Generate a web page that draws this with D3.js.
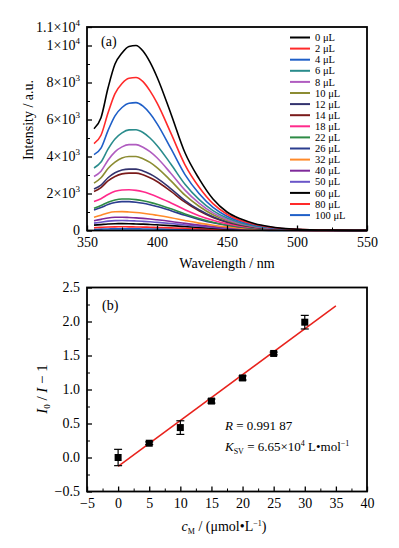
<!DOCTYPE html>
<html>
<head>
<meta charset="utf-8">
<script src="https://cdn.jsdelivr.net/npm/d3@7"></script>
<style>
  body { margin: 0; background: #fff; }
  svg { font-family: "Liberation Serif", "Times New Roman", serif; }
</style>
</head>
<body>
<div id="chart"></div>
<script>
// ---- panel (a) data: emission spectra ----
const wavelengths = [355, 360, 365, 370, 375, 380, 385, 390, 395, 400, 410, 420, 430, 440, 450, 460, 470, 480, 500, 525, 550]

const seriesNames = ["0 μL", "2 μL", "4 μL", "6 μL", "8 μL", "10 μL", "12 μL", "14 μL", "18 μL", "22 μL", "26 μL", "32 μL", "40 μL", "50 μL", "60 μL", "80 μL", "100 μL"]
const seriesColors = ["#000000", "#ff2a2a", "#1f5fc8", "#2a8c8c", "#b05cc0", "#8c8c32", "#33336e", "#7a1a1a", "#ff2a8c", "#2e8b45", "#2b3d8f", "#ff8a2a", "#7f2a9a", "#6a55c8", "#000000", "#ff2a2a", "#1f5fc8"]

const s0 = [5500, 6100, 7700, 9000, 9600, 9950, 10000, 9700, 9100, 8300, 6300, 4200, 2800, 1700, 1000, 620, 370, 220, 70, 20, 5]
const s2 = [4700, 5150, 6350, 7400, 7950, 8230, 8270, 8050, 7550, 6900, 5250, 3550, 2350, 1450, 880, 540, 320, 190, 60, 18, 5]
const s4 = [4100, 4450, 5400, 6200, 6650, 6880, 6910, 6720, 6320, 5780, 4420, 3020, 2000, 1250, 770, 470, 285, 170, 55, 16, 5]
const s6 = [3380, 3700, 4400, 4950, 5280, 5440, 5450, 5300, 5000, 4600, 3580, 2500, 1680, 1070, 670, 410, 250, 150, 50, 15, 4]
const s8 = [2920, 3200, 3800, 4250, 4520, 4640, 4640, 4500, 4260, 3930, 3080, 2180, 1480, 950, 600, 370, 225, 135, 45, 13, 4]
const s10 = [2560, 2850, 3350, 3700, 3920, 4000, 4000, 3880, 3680, 3400, 2680, 1910, 1310, 850, 540, 335, 205, 125, 42, 12, 4]
const s12 = [2240, 2450, 2850, 3120, 3270, 3320, 3320, 3220, 3050, 2830, 2250, 1620, 1120, 740, 470, 295, 180, 110, 38, 11, 3]
const s14 = [2110, 2320, 2680, 2920, 3060, 3100, 3100, 3010, 2850, 2650, 2110, 1530, 1060, 700, 450, 285, 175, 105, 36, 10, 3]
const s18 = [1565, 1720, 1950, 2120, 2190, 2200, 2170, 2090, 1970, 1830, 1490, 1120, 800, 550, 360, 230, 145, 90, 32, 9, 3]
const s22 = [1200, 1350, 1530, 1650, 1700, 1700, 1670, 1610, 1520, 1420, 1170, 890, 650, 450, 300, 195, 125, 78, 28, 8, 2]
const s26 = [1110, 1240, 1400, 1510, 1560, 1560, 1530, 1470, 1390, 1300, 1070, 820, 600, 415, 280, 180, 115, 72, 26, 8, 2]
const s32 = [720, 830, 950, 1010, 1020, 1000, 970, 930, 880, 820, 690, 540, 400, 285, 195, 130, 85, 55, 20, 6, 2]
const s40 = [530, 600, 680, 715, 720, 705, 685, 655, 620, 580, 490, 385, 290, 210, 145, 98, 65, 42, 16, 5, 2]
const s50 = [400, 450, 505, 535, 540, 530, 515, 495, 470, 440, 375, 300, 228, 165, 115, 78, 52, 34, 13, 4, 1]
const s60 = [290, 320, 350, 368, 370, 365, 355, 342, 326, 307, 265, 215, 165, 122, 86, 59, 40, 27, 11, 4, 1]
const s80 = [150, 170, 188, 198, 200, 197, 192, 185, 176, 166, 144, 118, 92, 69, 50, 35, 24, 16, 7, 2, 1]
const s100 = [65, 75, 84, 89, 90, 89, 87, 84, 80, 76, 66, 55, 44, 34, 25, 18, 13, 9, 4, 1, 0]
const seriesValues = [s0, s2, s4, s6, s8, s10, s12, s14, s18, s22, s26, s32, s40, s50, s60, s80, s100]

const xTicksA = [350, 400, 450, 500, 550]
const yTicksA = [0, 2000, 4000, 6000, 8000, 10000, 11000]
const yTickLabelsA = [["0", ""], ["2×10", "3"], ["4×10", "3"], ["6×10", "3"], ["8×10", "3"], ["1×10", "4"], ["1.1×10", "4"]]

// ---- panel (b) data: Stern-Volmer plot ----
const concB = [0, 5, 10, 15, 20, 25, 30]
const ratioB = [0.0, 0.21, 0.44, 0.83, 1.17, 1.53, 1.99]
const errB = [0.12, 0.02, 0.1, 0.03, 0.03, 0.02, 0.1]
const fitX = [0, 35]
const fitY = [-0.13, 2.23]
const xTicksB = [-5, 0, 5, 10, 15, 20, 25, 30, 35, 40]
const yTicksB = [-0.5, 0.0, 0.5, 1.0, 1.5, 2.0, 2.5]

const W = 399, H = 548
const LEFT = 87, RIGHT = 367
const A_TOP = 27, A_BOTTOM = 230.5
const B_TOP = 287.5, B_BOTTOM = 491.5

const svg = d3.select("#chart").append("svg")
    .attr("width", W)
    .attr("height", H)

// helper: draw inward ticks, major + minor
function inwardAxis(g, axisFn, scale, majors, minors, fmt) {
    g.call(axisFn(scale).tickValues(minors).tickSize(-3).tickFormat(""))
    g.select(".domain").remove()
    const major = g.append("g").call(axisFn(scale).tickValues(majors).tickSize(-5).tickPadding(7).tickFormat(fmt))
    major.select(".domain").remove()
    major.selectAll("line").attr("stroke-width", 1.3)
    g.selectAll("line").attr("stroke", "#000")
    major.selectAll("text")
        .attr("fill", "#000")
        .style("font-family", "Liberation Serif, serif")
        .style("font-size", "14px")
    return major
}

// ================= panel (a) =================
const xA = d3.scaleLinear().domain([350, 550]).range([LEFT, RIGHT])
const yA = d3.scaleLinear().domain([0, 11000]).range([A_BOTTOM, A_TOP])

const line = d3.line()
    .x(d => xA(d[0]))
    .y(d => yA(d[1]))
    .curve(d3.curveMonotoneX)

// draw spectra (last series first, so 0 uL sits on top)
svg.append("g").selectAll("path")
    .data(seriesValues.map((vals, i) => ({ i, pts: wavelengths.map((w, k) => [w, vals[k]]) })).reverse())
    .join("path")
    .attr("d", d => line(d.pts))
    .attr("fill", "none")
    .attr("stroke", d => seriesColors[d.i])
    .attr("stroke-width", 1.6)

const xAxA = svg.append("g").attr("transform", "translate(0," + A_BOTTOM + ")")
const xMajA = inwardAxis(xAxA, d3.axisBottom, xA, xTicksA, [375, 425, 475, 525], d => d)

const yAxA = svg.append("g").attr("transform", "translate(" + LEFT + ",0)")
const yMajA = inwardAxis(yAxA, d3.axisLeft, yA, yTicksA, [1000, 3000, 5000, 7000, 9000], () => "")
yMajA.selectAll(".tick text").each(function (d, i) {
    const t = d3.select(this)
    const lab = yTickLabelsA[i]
    t.append("tspan").text(lab[0])
    if (lab[1]) {
        t.append("tspan").text(lab[1]).attr("font-size", "9px").attr("dy", "-6")
    }
})

svg.append("rect")
    .attr("x", LEFT).attr("y", A_TOP)
    .attr("width", RIGHT - LEFT).attr("height", A_BOTTOM - A_TOP)
    .attr("fill", "none").attr("stroke", "#000").attr("stroke-width", 1.8)

svg.append("text")
    .attr("x", 101).attr("y", 46)
    .style("font-size", "14px")
    .text("(a)")

svg.append("text")
    .attr("x", (LEFT + RIGHT) / 2).attr("y", 268)
    .attr("text-anchor", "middle")
    .style("font-size", "14px")
    .text("Wavelength / nm")

svg.append("text")
    .attr("transform", "translate(33,120) rotate(-90)")
    .attr("text-anchor", "middle")
    .style("font-size", "14px")
    .text("Intensity / a.u.")

// legend
const legend = svg.append("g")
seriesNames.forEach((name, i) => {
    const yy = 37.5 + i * 11.1
    legend.append("line")
        .attr("x1", 290).attr("x2", 310)
        .attr("y1", yy).attr("y2", yy)
        .attr("stroke", seriesColors[i]).attr("stroke-width", 2)
    legend.append("text")
        .attr("x", 315).attr("y", yy)
        .attr("dy", "0.35em")
        .style("font-size", "10.5px")
        .text(name)
})

// ================= panel (b) =================
const xB = d3.scaleLinear().domain([-5, 40]).range([LEFT, RIGHT])
const yB = d3.scaleLinear().domain([-0.5, 2.5]).range([B_BOTTOM, B_TOP])

const xAxB = svg.append("g").attr("transform", "translate(0," + B_BOTTOM + ")")
inwardAxis(xAxB, d3.axisBottom, xB, xTicksB, [-2.5, 2.5, 7.5, 12.5, 17.5, 22.5, 27.5, 32.5, 37.5], d => d3.format("")(d).replace("-", "−"))

const yAxB = svg.append("g").attr("transform", "translate(" + LEFT + ",0)")
inwardAxis(yAxB, d3.axisLeft, yB, yTicksB, [-0.25, 0.25, 0.75, 1.25, 1.75, 2.25], d => d3.format(".1f")(d).replace("-", "−"))

// fit line
svg.append("line")
    .attr("x1", xB(fitX[0])).attr("y1", yB(fitY[0]))
    .attr("x2", xB(fitX[1])).attr("y2", yB(fitY[1]))
    .attr("stroke", "#e8221c").attr("stroke-width", 1.5)

// error bars + markers
const pts = svg.append("g").selectAll("g")
    .data(concB.map((c, i) => ({ c, v: ratioB[i], e: errB[i] })))
    .join("g")
pts.append("line")
    .attr("x1", d => xB(d.c)).attr("x2", d => xB(d.c))
    .attr("y1", d => yB(d.v - d.e)).attr("y2", d => yB(d.v + d.e))
    .attr("stroke", "#000").attr("stroke-width", 1.2)
pts.append("line")
    .attr("x1", d => xB(d.c) - 4).attr("x2", d => xB(d.c) + 4)
    .attr("y1", d => yB(d.v + d.e)).attr("y2", d => yB(d.v + d.e))
    .attr("stroke", "#000").attr("stroke-width", 1.2)
pts.append("line")
    .attr("x1", d => xB(d.c) - 4).attr("x2", d => xB(d.c) + 4)
    .attr("y1", d => yB(d.v - d.e)).attr("y2", d => yB(d.v - d.e))
    .attr("stroke", "#000").attr("stroke-width", 1.2)
pts.append("rect")
    .attr("x", d => xB(d.c) - 3.5).attr("y", d => yB(d.v) - 3.5)
    .attr("width", 7).attr("height", 7)
    .attr("fill", "#000")

svg.append("rect")
    .attr("x", LEFT).attr("y", B_TOP)
    .attr("width", RIGHT - LEFT).attr("height", B_BOTTOM - B_TOP)
    .attr("fill", "none").attr("stroke", "#000").attr("stroke-width", 1.8)

svg.append("text")
    .attr("x", 102).attr("y", 310)
    .style("font-size", "14px")
    .text("(b)")

// annotation
const rText = svg.append("text").attr("x", 225).attr("y", 430).style("font-size", "13px")
rText.append("tspan").attr("font-style", "italic").text("R")
rText.append("tspan").text(" = 0.991 87")

const kText = svg.append("text").attr("x", 225).attr("y", 451).style("font-size", "13px")
kText.append("tspan").attr("font-style", "italic").text("K")
kText.append("tspan").attr("font-size", "8px").attr("dy", "3").text("SV")
kText.append("tspan").attr("dy", "-3").text(" = 6.65×10")
kText.append("tspan").attr("font-size", "8px").attr("dy", "-5").text("4")
kText.append("tspan").attr("dy", "5").text(" L•mol")
kText.append("tspan").attr("font-size", "8px").attr("dy", "-5").text("−1")

// axis titles
const xt = svg.append("text")
    .attr("x", 224).attr("y", 531)
    .attr("text-anchor", "middle")
    .style("font-size", "14px")
xt.append("tspan").attr("font-style", "italic").text("c")
xt.append("tspan").attr("font-size", "8px").attr("dy", "3").text("M")
xt.append("tspan").attr("dy", "-3").text(" / (μmol•L")
xt.append("tspan").attr("font-size", "8px").attr("dy", "-5").text("−1")
xt.append("tspan").attr("dy", "5").text(")")

const yt = svg.append("text")
    .attr("transform", "translate(47,389) rotate(-90)")
    .attr("text-anchor", "middle")
    .style("font-size", "15px")
yt.append("tspan").attr("font-style", "italic").text("I")
yt.append("tspan").attr("font-size", "9px").attr("dy", "3").text("0")
yt.append("tspan").attr("dy", "-3").text(" / ")
yt.append("tspan").attr("font-style", "italic").text("I")
yt.append("tspan").text(" − 1")
</script>
</body>
</html>
